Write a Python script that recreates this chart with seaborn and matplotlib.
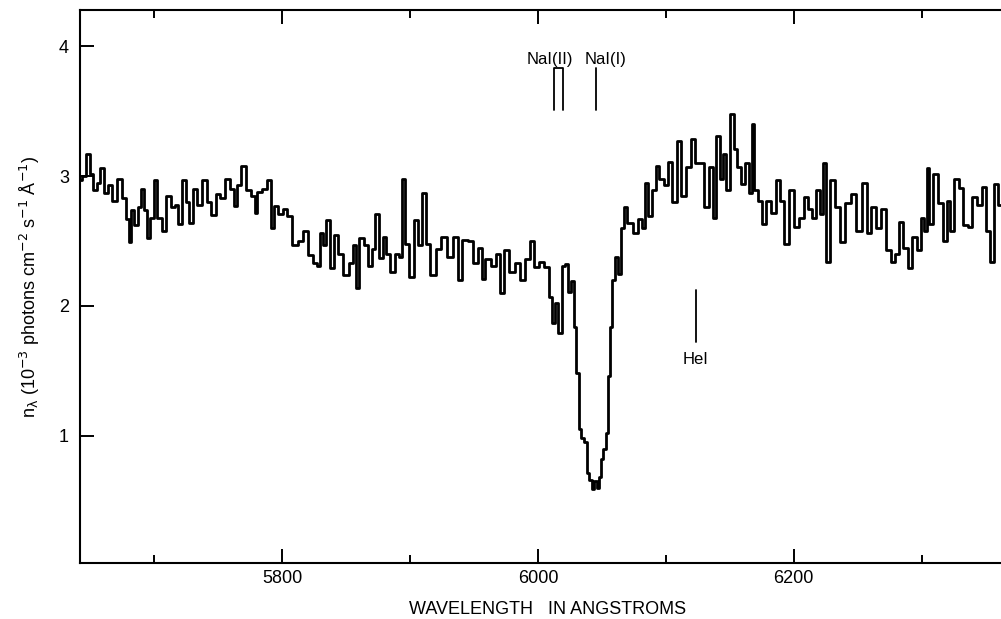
import matplotlib
matplotlib.use("Agg")
import matplotlib.pyplot as plt
import seaborn as sns
import numpy as np
import pandas as pd
from matplotlib.ticker import MultipleLocator

# ---------------- data ----------------
wavelength = [
    5642, 5645, 5648, 5651, 5654, 5657, 5659, 5662, 5665, 5669, 5673, 5677, 5679, 5681,
    5683, 5686, 5688, 5691, 5693, 5695, 5698, 5701, 5704, 5708, 5711, 5715, 5717, 5720,
    5723, 5726, 5728, 5732, 5735, 5740, 5743, 5746, 5750, 5753, 5757, 5761, 5763, 5766,
    5770, 5774, 5778, 5779, 5782, 5786, 5790, 5792, 5795, 5799, 5802, 5806, 5810, 5815,
    5818, 5822, 5826, 5828, 5831, 5833, 5836, 5839, 5842, 5845, 5850, 5854, 5857, 5859,
    5862, 5866, 5869, 5871, 5874, 5878, 5880, 5883, 5886, 5890, 5893, 5895, 5897, 5902,
    5904, 5908, 5911, 5914, 5918, 5922, 5927, 5931, 5936, 5939, 5943, 5947, 5951, 5955,
    5957, 5961, 5966, 5969, 5972, 5975, 5980, 5984, 5988, 5992, 5995, 5999, 6003, 6007,
    6010, 6012, 6015, 6017, 6020, 6022, 6025, 6027, 6029, 6031, 6033, 6035, 6037, 6039,
    6041, 6043, 6045, 6047, 6048, 6050, 6052, 6054, 6056, 6057, 6059, 6061, 6064, 6066,
    6068, 6072, 6076, 6080, 6082, 6085, 6087, 6091, 6093, 6097, 6100, 6103, 6107, 6110,
    6114, 6118, 6121, 6124, 6128, 6132, 6135, 6138, 6141, 6143, 6146, 6148, 6152, 6154,
    6158, 6160, 6164, 6166, 6168, 6170, 6174, 6177, 6180, 6184, 6188, 6191, 6194, 6198,
    6202, 6206, 6210, 6213, 6216, 6219, 6222, 6224, 6226, 6230, 6234, 6238, 6242, 6247,
    6251, 6256, 6259, 6262, 6266, 6270, 6274, 6278, 6280, 6284, 6287, 6291, 6294, 6298,
    6301, 6303, 6305, 6307, 6311, 6315, 6318, 6321, 6324, 6327, 6331, 6334, 6338, 6340,
    6346, 6349, 6352, 6355, 6358, 6362,
]
flux = [
    2.97, 3.00, 3.17, 3.02, 2.89, 2.95, 3.06, 2.87, 2.93, 2.81, 2.98, 2.83, 2.67, 2.49,
    2.74, 2.62, 2.76, 2.90, 2.74, 2.52, 2.68, 2.97, 2.68, 2.58, 2.85, 2.76, 2.78, 2.63,
    2.97, 2.80, 2.64, 2.90, 2.78, 2.97, 2.80, 2.70, 2.86, 2.83, 2.98, 2.90, 2.77, 2.93,
    3.08, 2.89, 2.85, 2.72, 2.88, 2.90, 2.97, 2.60, 2.77, 2.71, 2.75, 2.69, 2.47, 2.50,
    2.58, 2.39, 2.33, 2.31, 2.56, 2.47, 2.66, 2.29, 2.55, 2.40, 2.24, 2.33, 2.47, 2.14,
    2.52, 2.47, 2.31, 2.44, 2.71, 2.37, 2.53, 2.40, 2.26, 2.40, 2.38, 2.98, 2.48, 2.22,
    2.66, 2.47, 2.87, 2.48, 2.24, 2.44, 2.53, 2.38, 2.53, 2.20, 2.51, 2.50, 2.33, 2.45,
    2.21, 2.36, 2.31, 2.40, 2.10, 2.43, 2.26, 2.33, 2.20, 2.36, 2.50, 2.30, 2.34, 2.30,
    2.07, 1.87, 2.02, 1.79, 2.31, 2.32, 2.11, 2.19, 1.84, 1.48, 1.05, 0.98, 0.95, 0.71,
    0.66, 0.59, 0.65, 0.60, 0.68, 0.82, 0.90, 1.02, 1.46, 1.84, 2.20, 2.38, 2.25, 2.60,
    2.76, 2.64, 2.56, 2.67, 2.60, 2.95, 2.69, 2.89, 3.08, 2.98, 2.93, 3.11, 2.80, 3.27,
    2.85, 3.07, 3.29, 3.10, 3.10, 2.76, 3.07, 2.68, 3.31, 2.98, 3.17, 2.89, 3.48, 3.21,
    3.07, 2.94, 3.10, 2.87, 3.40, 2.89, 2.81, 2.63, 2.81, 2.72, 2.97, 2.81, 2.48, 2.89,
    2.61, 2.68, 2.84, 2.75, 2.68, 2.89, 2.71, 3.10, 2.34, 2.97, 2.76, 2.49, 2.79, 2.86,
    2.58, 2.95, 2.56, 2.76, 2.60, 2.75, 2.43, 2.34, 2.40, 2.65, 2.45, 2.29, 2.53, 2.43,
    2.68, 2.58, 3.06, 2.63, 3.02, 2.79, 2.50, 2.81, 2.58, 2.98, 2.91, 2.62, 2.61, 2.84,
    2.78, 2.92, 2.58, 2.34, 2.94, 2.78,
]

# line identifications
nai2_wavelengths = [6012.6, 6019.6]   # NaI(II) doublet
nai1_wavelength = 6045.4              # NaI(I)
hei_wavelength = 6123.6               # HeI
label_nai2 = "NaI(II)"
label_nai1 = "NaI(I)"
label_hei = "HeI"

x_ticks_major = [5800, 6000, 6200]
y_ticks = [1, 2, 3, 4]

# ---------------- style ----------------
sns.set_style("ticks")
plt.rcParams["font.family"] = ["Liberation Sans Narrow", "Liberation Sans", "DejaVu Sans"]
plt.rcParams["mathtext.fontset"] = "custom"
plt.rcParams["mathtext.rm"] = "Liberation Sans Narrow"
plt.rcParams["mathtext.it"] = "Liberation Sans Narrow"
plt.rcParams["mathtext.bf"] = "Liberation Sans Narrow:bold"
plt.rcParams["text.color"] = "black"
plt.rcParams["axes.labelcolor"] = "black"
plt.rcParams["xtick.color"] = "black"
plt.rcParams["ytick.color"] = "black"

fig = plt.figure(figsize=(10.01, 6.19), dpi=100)
ax = fig.add_axes([80 / 1001, 1 - 563 / 619, 1 - 80 / 1001, (563 - 10) / 619])

df = pd.DataFrame({"wavelength": wavelength, "flux": flux})
sns.lineplot(data=df, x="wavelength", y="flux", ax=ax, color="black",
             linewidth=2.0, estimator=None, drawstyle="steps-mid")

ax.set_xlim(5642, 6362)
ax.set_ylim(0.02, 4.28)

ax.set_xticks(x_ticks_major)
ax.xaxis.set_minor_locator(MultipleLocator(100))
ax.set_yticks(y_ticks)
ax.tick_params(axis="x", which="major", direction="in", length=10, width=1.4,
               top=True, bottom=True, labelsize=13, pad=5)
ax.tick_params(axis="x", which="minor", direction="in", length=5.5, width=1.4,
               top=True, bottom=True)
ax.tick_params(axis="y", which="major", direction="in", length=10, width=1.4,
               left=True, right=False, labelsize=13, pad=8)

for side in ["left", "bottom", "top"]:
    ax.spines[side].set_linewidth(1.5)
    ax.spines[side].set_color("black")
ax.spines["right"].set_visible(False)

ax.set_xlabel("WAVELENGTH   IN ANGSTROMS", fontsize=13)
ax.xaxis.set_label_coords((548 - 80) / (1001 - 80), -47 / 553)
ax.xaxis.label.set_verticalalignment("center")
ax.set_ylabel(r"n$_\lambda$ (10$^{-3}$ photons cm$^{-2}$ s$^{-1}$ Å$^{-1}$)",
              fontsize=13, labelpad=12)

# line markers
ax.plot([nai2_wavelengths[0], nai2_wavelengths[0], nai2_wavelengths[1], nai2_wavelengths[1]],
        [3.51, 3.83, 3.83, 3.51], color="black", lw=1.3)
ax.plot([nai1_wavelength, nai1_wavelength], [3.51, 3.83], color="black", lw=1.3)
ax.plot([hei_wavelength, hei_wavelength], [1.72, 2.12], color="black", lw=1.3)

ax.text(6009.5, 3.90, label_nai2, ha="center", va="center", fontsize=12)
ax.text(6053.0, 3.90, label_nai1, ha="center", va="center", fontsize=12)
ax.text(hei_wavelength, 1.59, label_hei, ha="center", va="center", fontsize=12)

fig.savefig("out.png", dpi=100)
